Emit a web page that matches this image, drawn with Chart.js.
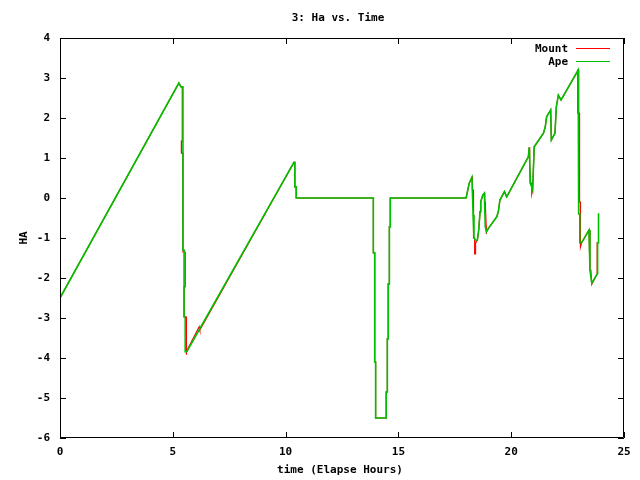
<!DOCTYPE html>
<html>
<head>
<meta charset="utf-8">
<script src="https://cdn.jsdelivr.net/npm/chart.js@4/dist/chart.umd.min.js"></script>
<style>
  html, body { margin: 0; padding: 0; background: #fff; }
  #wrap { width: 640px; height: 480px; }
</style>
</head>
<body>
<div id="wrap"><canvas id="chart" width="640" height="480"></canvas></div>
<script>
// time (elapsed hours) and HA values
const apeTime = [0, 5.27, 5.36, 5.45, 5.45, 5.5, 5.5, 5.55, 5.55, 5.62, 10.37, 10.41, 10.41, 10.47, 10.47,
  13.89, 13.89, 13.95, 13.95, 13.99, 13.99, 14.46, 14.46, 14.51, 14.51, 14.55, 14.55, 14.6, 14.6, 14.64, 14.64,
  18.0, 18.14, 18.26, 18.31, 18.35, 18.44, 18.5, 18.56, 18.62, 18.65, 18.74, 18.81, 18.85, 18.91, 18.99,
  19.36, 19.43, 19.5, 19.7, 19.8, 20.76, 20.8, 20.85, 20.95, 21.02, 21.43, 21.51, 21.57, 21.75, 21.78,
  21.94, 22.0, 22.09, 22.21, 22.97, 22.99, 22.99, 23.04, 23.04, 23.12, 23.45, 23.49, 23.57, 23.79,
  23.83, 23.83, 23.87, 23.87];
const apeHA = [-2.5, 2.875, 2.78, 2.78, -1.3, -1.3, -2.97, -2.97, -3.84, -3.84, 0.89, 0.89, 0.28, 0.28, 0,
  0, -1.37, -1.37, -4.1, -4.1, -5.5, -5.5, -4.85, -4.85, -3.52, -3.52, -2.15, -2.15, -0.72, -0.72, 0,
  0, 0.37, 0.52, -0.42, -1.0, -1.07, -1.05, -0.8, -0.34, -0.09, 0.07, 0.12, -0.72, -0.84, -0.76,
  -0.47, -0.34, -0.05, 0.16, 0.03, 1.03, 1.27, 0.37, 0.2, 1.28, 1.62, 1.78, 2.03, 2.2, 1.45,
  1.62, 2.28, 2.57, 2.45, 3.2, 2.5, -0.4, -0.4, -1.12, -1.12, -0.8, -1.8, -2.13, -1.92,
  -1.9, -1.12, -1.12, -0.38];

const mountTime = [0, 5.27, 5.36, 5.42, 5.42, 5.38, 5.38, 5.45, 5.45, 5.55, 5.55, 5.5, 5.5, 5.59, 5.59, 5.62,
  6.17, 6.2, 10.37, 10.41, 10.41, 10.47, 10.47,
  13.89, 13.89, 13.95, 13.95, 13.99, 13.99, 14.46, 14.46, 14.51, 14.51, 14.55, 14.55, 14.6, 14.6, 14.64, 14.64,
  18.0, 18.14, 18.26, 18.28, 18.28, 18.33, 18.33, 18.38, 18.38, 18.42, 18.42, 18.5, 18.56, 18.62, 18.65,
  18.74, 18.81, 18.83, 18.85, 18.89, 18.89, 18.91, 18.99,
  19.36, 19.43, 19.5, 19.7, 19.8, 20.76, 20.8, 20.82, 20.84, 20.91, 20.91, 20.95, 21.02, 21.43, 21.51, 21.57, 21.75, 21.78,
  21.94, 22.0, 22.09, 22.21, 22.97, 22.95, 22.95, 23.03, 23.03, 23.07, 23.07, 23.12, 23.45, 23.49, 23.53, 23.57, 23.79,
  23.81, 23.81, 23.86];
const mountHA = [-2.5, 2.875, 2.78, 2.78, 1.42, 1.42, 1.12, 1.12, -1.35, -1.35, -2.22, -2.22, -2.97, -2.97, -3.92, -3.84,
  -3.22, -3.3, 0.89, 0.89, 0.28, 0.28, 0,
  0, -1.37, -1.37, -4.1, -4.1, -5.5, -5.5, -4.85, -4.85, -3.52, -3.52, -2.15, -2.15, -0.72, -0.72, 0,
  0, 0.37, 0.52, 0.52, 0.2, 0.2, -1.0, -1.0, -1.4, -1.4, -1.13, -1.05, -0.8, -0.34, -0.09,
  0.07, 0.12, -0.1, -0.1, -0.72, -0.9, -0.84, -0.76,
  -0.47, -0.34, -0.05, 0.16, 0.03, 1.03, 1.27, 0.87, 0.37, 0.37, 0.1, 0.2, 1.28, 1.62, 1.78, 2.03, 2.2, 1.45,
  1.62, 2.28, 2.57, 2.45, 3.2, 3.2, 2.12, 2.12, -0.1, -0.1, -1.22, -1.12, -0.8, -1.8, -1.8, -2.16, -1.92,
  -1.88, -1.12, -1.12];

const xTicks = [0, 5, 10, 15, 20, 25];
const yTicks = [-6, -5, -4, -3, -2, -1, 0, 1, 2, 3, 4];

const FONT = "bold 11px 'DejaVu Sans Mono', monospace";

function toPoints(xs, ys) {
  return xs.map((x, i) => ({ x: x, y: ys[i] }));
}

// gnuplot-like frame, inward ticks, title, axis labels and key
const gnuFrame = {
  id: "gnuFrame",
  afterDraw(chart) {
    const ctx = chart.ctx;
    const a = chart.chartArea;
    const xs = chart.scales.x, ys = chart.scales.y;
    ctx.save();
    ctx.strokeStyle = "#000";
    ctx.lineWidth = 1;
    ctx.beginPath();
    ctx.rect(a.left + 0.5, a.top + 0.5, a.right - a.left - 1, a.bottom - a.top - 1);
    xTicks.forEach(v => {
      const px = Math.round(xs.getPixelForValue(v)) + 0.5;
      ctx.moveTo(px, a.bottom); ctx.lineTo(px, a.bottom - 6);
      ctx.moveTo(px, a.top); ctx.lineTo(px, a.top + 6);
    });
    yTicks.forEach(v => {
      const py = Math.round(ys.getPixelForValue(v)) + 0.5;
      ctx.moveTo(a.left, py); ctx.lineTo(a.left + 6, py);
      ctx.moveTo(a.right, py); ctx.lineTo(a.right - 6, py);
    });
    ctx.stroke();

    ctx.fillStyle = "#000";
    ctx.font = FONT;
    ctx.textBaseline = "middle";
    ctx.textAlign = "center";
    ctx.fillText("3: Ha vs. Time", 338, 18);
    ctx.fillText("time (Elapse Hours)", 340, 470);
    ctx.save();
    ctx.translate(24, 238);
    ctx.rotate(-Math.PI / 2);
    ctx.fillText("HA", 0, 0);
    ctx.restore();

    // key, top right
    const keys = [["Mount", "#ff0000", 49], ["Ape", "#00c000", 62]];
    ctx.textAlign = "right";
    keys.forEach(k => {
      ctx.fillStyle = "#000";
      ctx.fillText(k[0], 568, k[2]);
      ctx.strokeStyle = k[1];
      ctx.beginPath();
      ctx.moveTo(576, k[2] - 0.5);
      ctx.lineTo(610, k[2] - 0.5);
      ctx.stroke();
    });
    ctx.restore();
  }
};

new Chart(document.getElementById("chart"), {
  type: "scatter",
  data: {
    datasets: [
      {
        label: "Ape",
        data: toPoints(apeTime, apeHA),
        showLine: true,
        borderColor: "#00c000",
        borderWidth: 1.6,
        pointRadius: 0,
        tension: 0,
      },
      {
        label: "Mount",
        data: toPoints(mountTime, mountHA),
        showLine: true,
        borderColor: "#ff0000",
        borderWidth: 1.2,
        pointRadius: 0,
        tension: 0,
      },
    ],
  },
  plugins: [gnuFrame],
  options: {
    responsive: false,
    animation: false,
    layout: { padding: { top: 38, right: 16, left: 0, bottom: 0 } },
    plugins: {
      legend: { display: false },
      title: { display: false },
      tooltip: { enabled: false },
    },
    scales: {
      x: {
        type: "linear",
        min: 0,
        max: 25,
        afterBuildTicks: (s) => { s.ticks = xTicks.map(v => ({ value: v })); },
        afterFit: (s) => { s.height = 42; },
        grid: { display: false, drawTicks: false },
        border: { display: false },
        ticks: { color: "#000", font: { family: "'DejaVu Sans Mono', monospace", size: 11, weight: "bold" }, padding: 8, maxRotation: 0 },
      },
      y: {
        type: "linear",
        min: -6,
        max: 4,
        afterBuildTicks: (s) => { s.ticks = yTicks.map(v => ({ value: v })); },
        afterFit: (s) => { s.width = 60; },
        grid: { display: false, drawTicks: false },
        border: { display: false },
        ticks: { color: "#000", font: { family: "'DejaVu Sans Mono', monospace", size: 11, weight: "bold" }, padding: 10 },
      },
    },
  },
});
</script>
</body>
</html>
